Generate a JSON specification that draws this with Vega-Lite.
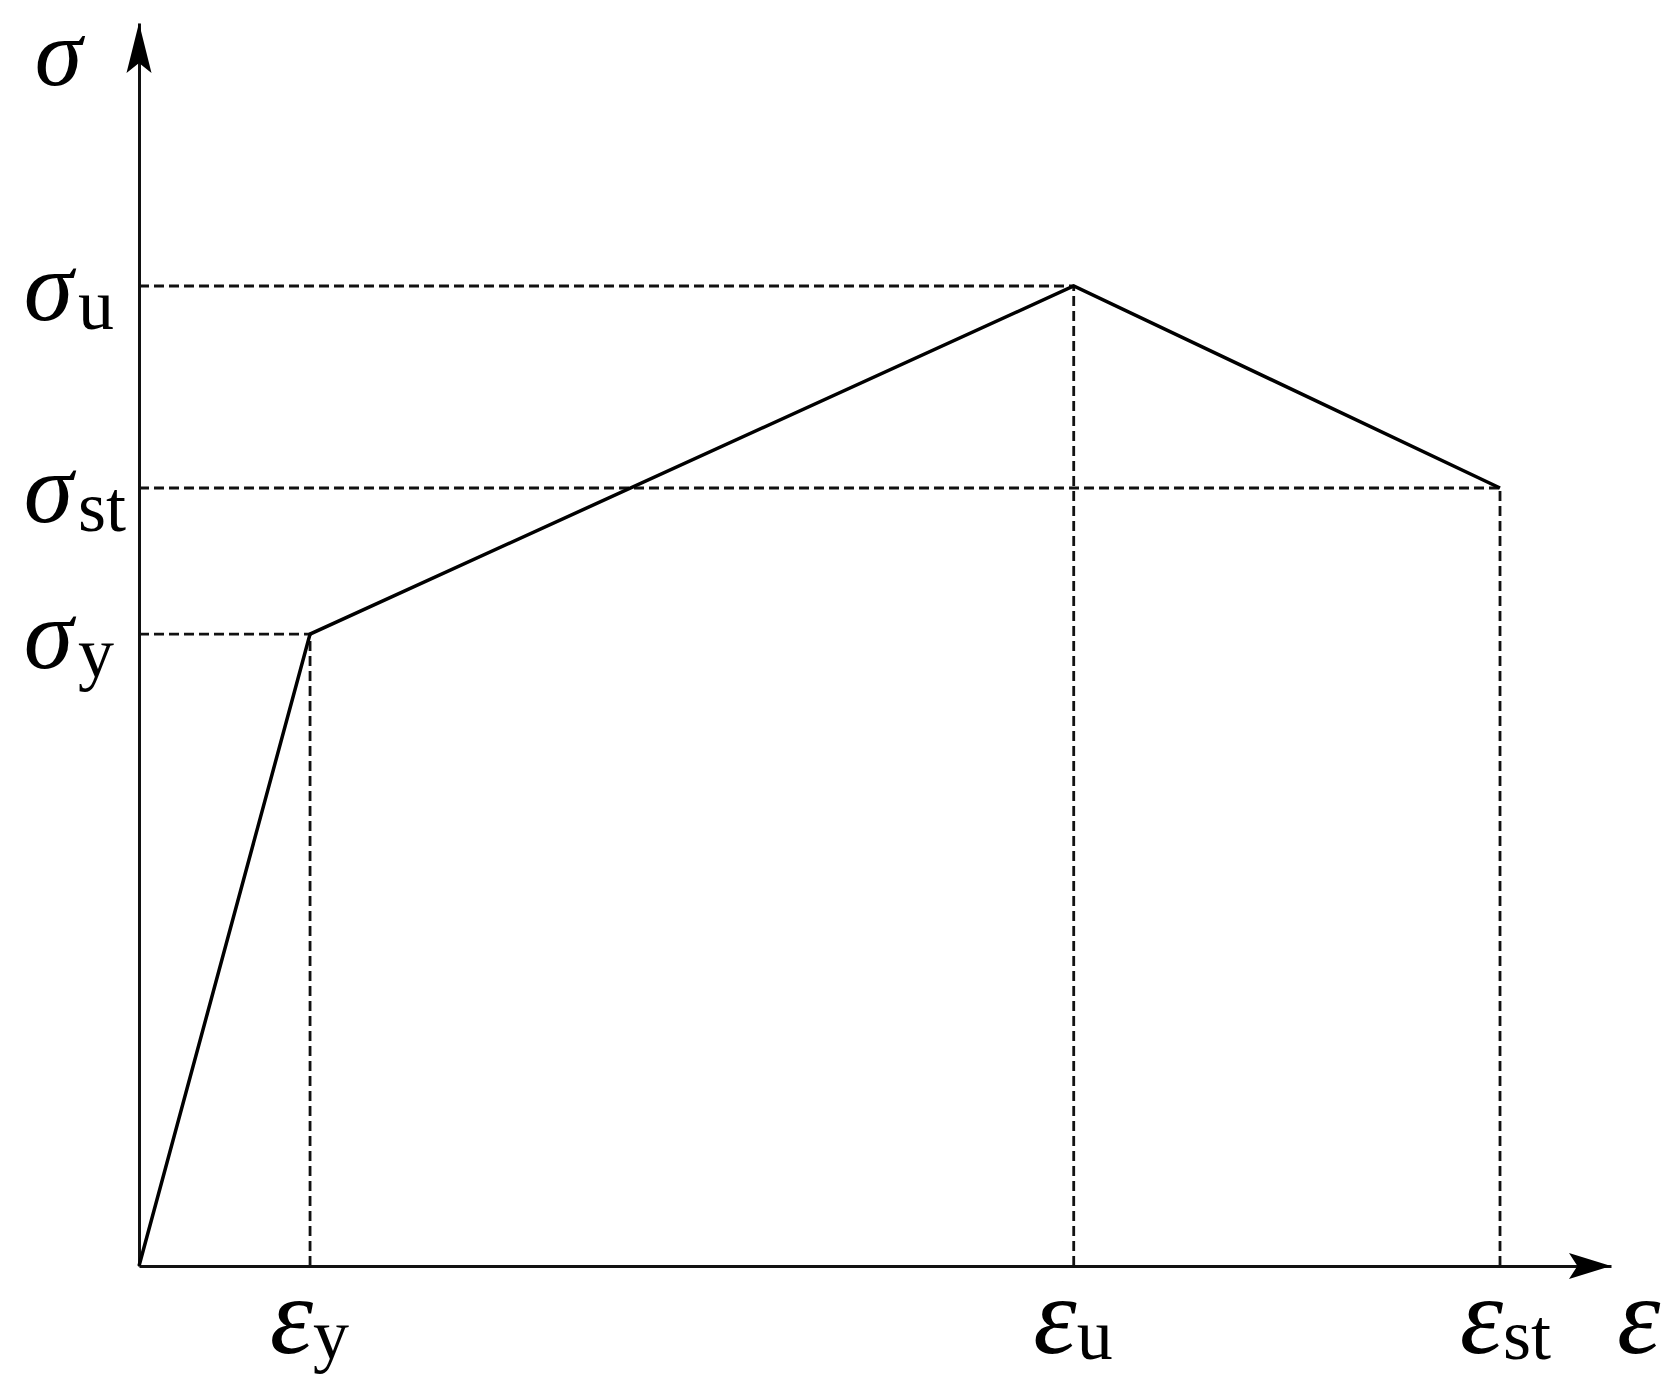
{
  "$schema": "https://vega.github.io/schema/vega-lite/v6.json",
  "width": 1472,
  "height": 1243,
  "autosize": {"type": "none"},
  "padding": {"left": 139, "top": 23, "right": 61, "bottom": 131},
  "background": "white",
  "config": {"view": {"stroke": null}},
  "datasets": {
    "curve": [
      {"strain": 0, "stress": 0},
      {"strain": 11.62, "stress": 50.84},
      {"strain": 63.5, "stress": 78.84},
      {"strain": 92.46, "stress": 62.59}
    ],
    "guides": [
      {"x": 0, "x2": 11.62, "y": 50.84, "y2": 50.84},
      {"x": 0, "x2": 63.5, "y": 78.84, "y2": 78.84},
      {"x": 0, "x2": 92.46, "y": 62.59, "y2": 62.59},
      {"x": 11.62, "x2": 11.62, "y": 0, "y2": 50.84},
      {"x": 63.5, "x2": 63.5, "y": 0, "y2": 78.84},
      {"x": 92.46, "x2": 92.46, "y": 0, "y2": 62.59}
    ],
    "labels": [
      {"kind": "y", "x": 0, "y": 78.84, "sym": "σ", "sub": "u"},
      {"kind": "y", "x": 0, "y": 62.59, "sym": "σ", "sub": "st"},
      {"kind": "y", "x": 0, "y": 50.84, "sym": "σ", "sub": "y"},
      {"kind": "x", "x": 11.62, "y": 0, "sym": "ε", "sub": "y"},
      {"kind": "x", "x": 63.5, "y": 0, "sym": "ε", "sub": "u"},
      {"kind": "x", "x": 92.46, "y": 0, "sym": "ε", "sub": "st"},
      {"kind": "ytitle", "x": 0, "y": 100, "sym": "σ", "sub": ""},
      {"kind": "xtitle", "x": 100, "y": 0, "sym": "ε", "sub": ""}
    ],
    "arrows": [
      {"axis": "x", "x": 100, "y": 0},
      {"axis": "y", "x": 0, "y": 100}
    ]
  },
  "layer": [
    {
      "data": {"name": "guides"},
      "mark": {"type": "rule", "strokeDash": [10, 5], "strokeWidth": 2.8, "color": "#111"},
      "encoding": {
        "x": {"field": "x", "type": "quantitative", "scale": {"domain": [0, 100], "nice": false, "zero": false},
          "axis": {"domain": true, "domainColor": "#111", "domainWidth": 3, "ticks": false, "labels": false, "grid": false, "title": null}},
        "x2": {"field": "x2"},
        "y": {"field": "y", "type": "quantitative", "scale": {"domain": [0, 100], "nice": false, "zero": false},
          "axis": {"domain": true, "domainColor": "#111", "domainWidth": 3, "ticks": false, "labels": false, "grid": false, "title": null}},
        "y2": {"field": "y2"}
      }
    },
    {
      "data": {"name": "curve"},
      "mark": {"type": "line", "color": "#000", "strokeWidth": 3.5, "strokeJoin": "miter"},
      "encoding": {
        "x": {"field": "strain", "type": "quantitative"},
        "y": {"field": "stress", "type": "quantitative"},
        "order": {"field": "strain"}
      }
    },
    {
      "data": {"name": "arrows"},
      "transform": [{"filter": "datum.axis == 'x'"}],
      "mark": {"type": "point", "filled": true, "color": "#000", "opacity": 1, "size": 7056, "shape": "M0,0 L-1,-0.31 L-0.8,0 L-1,0.31 Z"},
      "encoding": {
        "x": {"field": "x", "type": "quantitative"},
        "y": {"field": "y", "type": "quantitative"}
      }
    },
    {
      "data": {"name": "arrows"},
      "transform": [{"filter": "datum.axis == 'y'"}],
      "mark": {"type": "point", "filled": true, "color": "#000", "opacity": 1, "size": 10000, "shape": "M0,0 L-0.25,1 L0,0.8 L0.25,1 Z"},
      "encoding": {
        "x": {"field": "x", "type": "quantitative"},
        "y": {"field": "y", "type": "quantitative"}
      }
    },
    {
      "data": {"name": "labels"},
      "transform": [{"filter": "datum.kind == 'y'"}],
      "mark": {"type": "text", "font": "Liberation Serif", "fontStyle": "italic", "fontSize": 100, "align": "right", "baseline": "alphabetic", "dx": -66, "dy": 34, "color": "#000"},
      "encoding": {
        "x": {"field": "x", "type": "quantitative"},
        "y": {"field": "y", "type": "quantitative"},
        "text": {"field": "sym"}
      }
    },
    {
      "data": {"name": "labels"},
      "transform": [{"filter": "datum.kind == 'y'"}],
      "mark": {"type": "text", "font": "Liberation Serif", "fontSize": 72, "align": "left", "baseline": "alphabetic", "dx": -61, "dy": 43, "color": "#000"},
      "encoding": {
        "x": {"field": "x", "type": "quantitative"},
        "y": {"field": "y", "type": "quantitative"},
        "text": {"field": "sub"}
      }
    },
    {
      "data": {"name": "labels"},
      "transform": [{"filter": "datum.kind == 'x'"}],
      "mark": {"type": "text", "font": "Liberation Serif", "fontStyle": "italic", "fontSize": 110, "align": "right", "baseline": "alphabetic", "dx": 3, "dy": 87, "color": "#000"},
      "encoding": {
        "x": {"field": "x", "type": "quantitative"},
        "y": {"field": "y", "type": "quantitative"},
        "text": {"field": "sym"}
      }
    },
    {
      "data": {"name": "labels"},
      "transform": [{"filter": "datum.kind == 'x'"}],
      "mark": {"type": "text", "font": "Liberation Serif", "fontSize": 72, "align": "left", "baseline": "alphabetic", "dx": 3, "dy": 93, "color": "#000"},
      "encoding": {
        "x": {"field": "x", "type": "quantitative"},
        "y": {"field": "y", "type": "quantitative"},
        "text": {"field": "sub"}
      }
    },
    {
      "data": {"name": "labels"},
      "transform": [{"filter": "datum.kind == 'ytitle'"}],
      "mark": {"type": "text", "font": "Liberation Serif", "fontStyle": "italic", "fontSize": 96, "align": "right", "baseline": "alphabetic", "dx": -57, "dy": 62, "color": "#000"},
      "encoding": {
        "x": {"field": "x", "type": "quantitative"},
        "y": {"field": "y", "type": "quantitative"},
        "text": {"field": "sym"}
      }
    },
    {
      "data": {"name": "labels"},
      "transform": [{"filter": "datum.kind == 'xtitle'"}],
      "mark": {"type": "text", "font": "Liberation Serif", "fontStyle": "italic", "fontSize": 110, "align": "left", "baseline": "alphabetic", "dx": 6, "dy": 87, "color": "#000"},
      "encoding": {
        "x": {"field": "x", "type": "quantitative"},
        "y": {"field": "y", "type": "quantitative"},
        "text": {"field": "sym"}
      }
    }
  ]
}
